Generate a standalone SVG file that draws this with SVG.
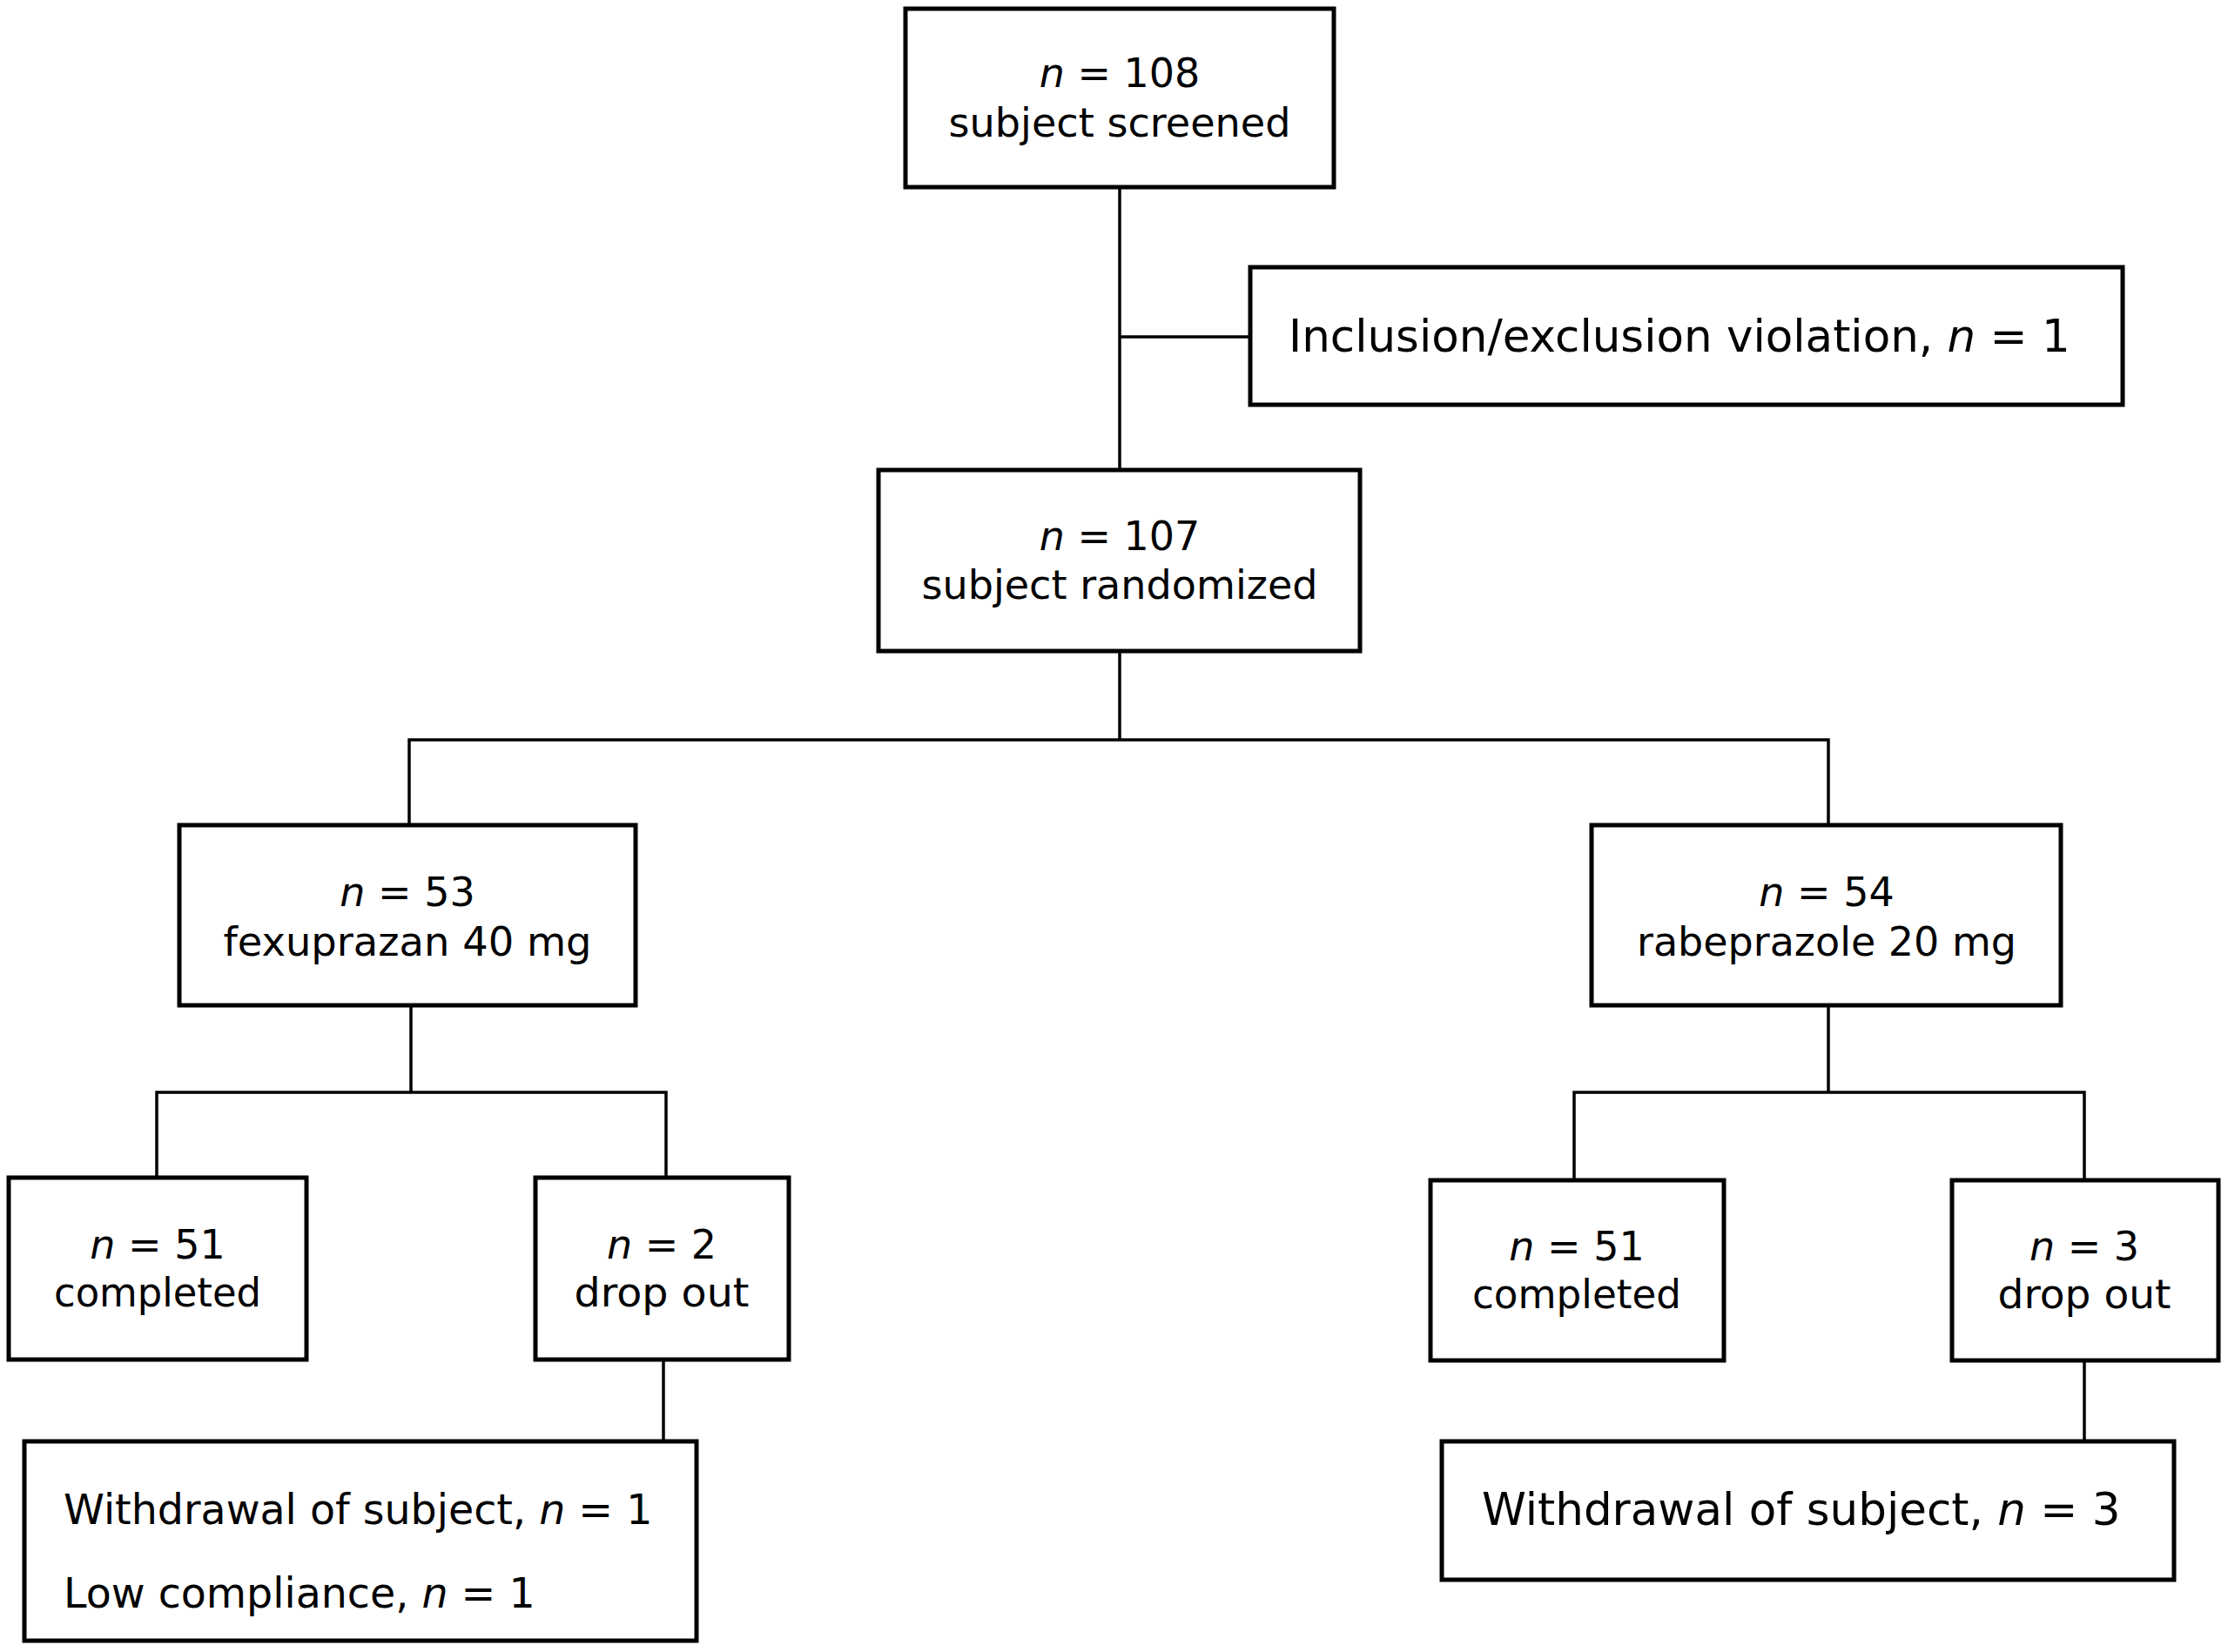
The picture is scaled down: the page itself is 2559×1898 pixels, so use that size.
<svg xmlns="http://www.w3.org/2000/svg" width="2559" height="1898" viewBox="0 0 2559 1898">
<style>
  .box { fill: #ffffff; stroke: #000000; stroke-width: 5; }
  .conn { fill: none; stroke: #000000; stroke-width: 3.5; }
  text { font-family: "DejaVu Sans", Verdana, sans-serif; font-size: 46px; fill: #000000; }
  .c { text-anchor: middle; }
  .big { font-size: 51.5px; }
  .mid { font-size: 47.5px; }
  .i { font-style: italic; }
</style>
<rect x="0" y="0" width="2559" height="1898" fill="#ffffff"/>
<g id="connectors">
  <path class="conn" d="M1286 215 V540"/>
  <path class="conn" d="M1286 387 H1436"/>
  <path class="conn" d="M1286 748 V850"/>
  <path class="conn" d="M470 948 V850 H2100 V948"/>
  <path class="conn" d="M472 1155 V1255"/>
  <path class="conn" d="M180 1353 V1255 H765 V1353"/>
  <path class="conn" d="M762 1562 V1656"/>
  <path class="conn" d="M2100 1155 V1255"/>
  <path class="conn" d="M1808 1356 V1255 H2394 V1356"/>
  <path class="conn" d="M2394 1563 V1656"/>
</g>
<g id="screened">
  <rect class="box" x="1040" y="10" width="492" height="205"/>
  <text class="c" x="1286" y="100"><tspan class="i">n</tspan> = 108</text>
  <text class="c" x="1286" y="157" textLength="393" lengthAdjust="spacingAndGlyphs">subject screened</text>
</g>
<g id="violation">
  <rect class="box" x="1436" y="307" width="1002" height="158"/>
  <text class="big" x="1480" y="404">Inclusion/exclusion violation, <tspan class="i">n</tspan> = 1</text>
</g>
<g id="randomized">
  <rect class="box" x="1009" y="540" width="553" height="208"/>
  <text class="c" x="1286" y="632"><tspan class="i">n</tspan> = 107</text>
  <text class="c" x="1286" y="688" textLength="455" lengthAdjust="spacingAndGlyphs">subject randomized</text>
</g>
<g id="fexuprazan">
  <rect class="box" x="206" y="948" width="524" height="207"/>
  <text class="c" x="468" y="1041"><tspan class="i">n</tspan> = 53</text>
  <text class="c" x="468" y="1098" textLength="423" lengthAdjust="spacingAndGlyphs">fexuprazan 40 mg</text>
</g>
<g id="rabeprazole">
  <rect class="box" x="1828" y="948" width="539" height="207"/>
  <text class="c" x="2098" y="1041"><tspan class="i">n</tspan> = 54</text>
  <text class="c" x="2098" y="1098" textLength="436" lengthAdjust="spacingAndGlyphs">rabeprazole 20 mg</text>
</g>
<g id="completed-left">
  <rect class="box" x="10" y="1353" width="342" height="209"/>
  <text class="c" x="181" y="1446"><tspan class="i">n</tspan> = 51</text>
  <text class="c" x="181" y="1501" textLength="238" lengthAdjust="spacingAndGlyphs">completed</text>
</g>
<g id="dropout-left">
  <rect class="box" x="615" y="1353" width="291" height="209"/>
  <text class="c" x="760" y="1446"><tspan class="i">n</tspan> = 2</text>
  <text class="c" x="760" y="1501" textLength="201" lengthAdjust="spacingAndGlyphs">drop out</text>
</g>
<g id="completed-right">
  <rect class="box" x="1643" y="1356" width="337" height="207"/>
  <text class="c" x="1811" y="1448"><tspan class="i">n</tspan> = 51</text>
  <text class="c" x="1811" y="1503" textLength="240" lengthAdjust="spacingAndGlyphs">completed</text>
</g>
<g id="dropout-right">
  <rect class="box" x="2242" y="1356" width="306" height="207"/>
  <text class="c" x="2394" y="1448"><tspan class="i">n</tspan> = 3</text>
  <text class="c" x="2394" y="1503" textLength="199" lengthAdjust="spacingAndGlyphs">drop out</text>
</g>
<g id="withdrawal-left">
  <rect class="box" x="28" y="1656" width="772" height="229"/>
  <text class="mid" x="73" y="1751">Withdrawal of subject, <tspan class="i">n</tspan> = 1</text>
  <text class="mid" x="73" y="1847">Low compliance, <tspan class="i">n</tspan> = 1</text>
</g>
<g id="withdrawal-right">
  <rect class="box" x="1656" y="1656" width="841" height="159"/>
  <text class="big" x="1702" y="1752">Withdrawal of subject, <tspan class="i">n</tspan> = 3</text>
</g>
</svg>
